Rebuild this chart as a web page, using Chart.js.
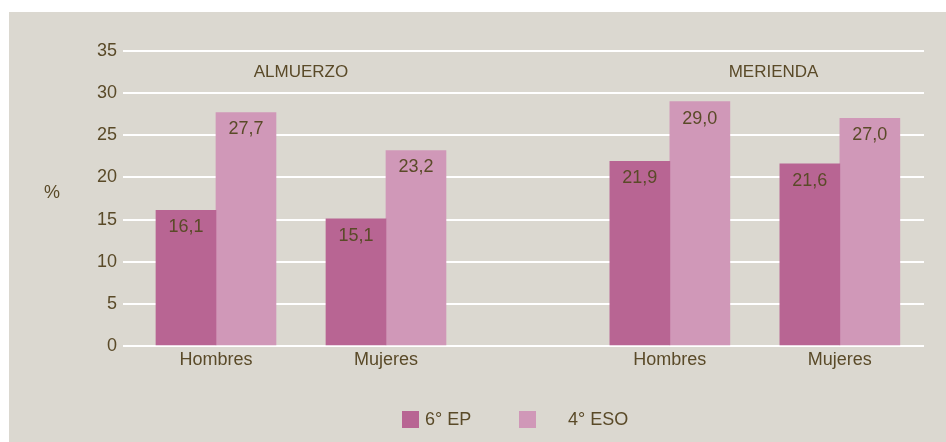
<!DOCTYPE html>
<html>
<head>
<meta charset="utf-8">
<script src="https://cdn.jsdelivr.net/npm/chart.js@4"></script>
<style>
  body { margin: 0; background: #fff; font-family: 'Liberation Sans', sans-serif; }
  #panel { position: absolute; left: 9px; top: 12px; width: 937px; height: 430px; background: #dbd8d0; }
  #chart { position: absolute; left: 0; top: 0; }
  .leg { position: absolute; top: 397px; display: flex; align-items: center; color: #5a4a28; font-size: 18px; }
  .leg i { display: inline-block; width: 17px; height: 17px; margin-right: 6px; }
</style>
</head>
<body>
<div id="panel">
  <canvas id="chart" width="937" height="430"></canvas>
  <div class="leg" style="left:393px"><i style="background:#b86593"></i>6° EP</div>
  <div class="leg" style="left:510px"><i style="background:#d098b8; margin-right:32px"></i>4° ESO</div>
</div>
<script>
const categories = ['Hombres', 'Mujeres', 'Hombres', 'Mujeres'];
const catPos = [1, 2, 3.67, 4.67];
const groups = ['ALMUERZO', 'MERIENDA'];
const groupPos = [1.5, 4.28];
const ep6 = [16.1, 15.1, 21.9, 21.6];
const eso4 = [27.7, 23.2, 29.0, 27.0];
const yTicks = [0, 5, 10, 15, 20, 25, 30, 35];

const textColor = '#5a4a28';
const fontFam = "'Liberation Sans', sans-serif";

// value labels inside the bar tops, group titles and the % sign
const extras = {
  id: 'extras',
  afterDatasetsDraw(chart) {
    const { ctx, scales } = chart;
    ctx.save();
    ctx.fillStyle = textColor;
    ctx.textAlign = 'center';
    ctx.textBaseline = 'middle';
    ctx.font = '18px ' + fontFam;
    chart.data.datasets.forEach((ds, i) => {
      chart.getDatasetMeta(i).data.forEach((bar, j) => {
        ctx.fillText(ds.data[j].y.toFixed(1).replace('.', ','), bar.x, bar.y + 17);
      });
    });
    ctx.font = '17px ' + fontFam;
    groups.forEach((g, i) => {
      ctx.fillText(g, scales.x.getPixelForValue(groupPos[i]), scales.y.getPixelForValue(32.5));
    });
    ctx.font = '18px ' + fontFam;
    ctx.fillText('%', 43, 181);
    ctx.restore();
  },
};

new Chart(document.getElementById('chart'), {
  type: 'bar',
  data: {
    datasets: [
      {
        label: '6° EP',
        data: ep6.map((v, i) => ({ x: catPos[i], y: v })),
        backgroundColor: '#b86593',
        barThickness: 60,
      },
      {
        label: '4° ESO',
        data: eso4.map((v, i) => ({ x: catPos[i], y: v })),
        backgroundColor: '#d098b8',
        barThickness: 60,
      },
    ],
  },
  options: {
    responsive: false,
    animation: false,
    layout: { padding: { top: 39, right: 22, bottom: 56, left: 0 } },
    plugins: { legend: { display: false }, tooltip: { enabled: false } },
    scales: {
      x: {
        type: 'linear',
        offset: false,
        bounds: 'data',
        min: 0.453,
        max: 5.165,
        grid: { display: false },
        border: { display: false },
        afterBuildTicks: (s) => { s.ticks = catPos.map((v) => ({ value: v })); },
        afterFit: (s) => { s.height = 40; },
        ticks: {
          autoSkip: false,
          maxRotation: 0,
          padding: -5,
          color: textColor,
          font: { family: fontFam, size: 18 },
          callback: (v, i) => categories[i],
        },
      },
      y: {
        min: 0,
        max: 35,
        grid: { color: '#ffffff', lineWidth: 2, drawTicks: false },
        border: { display: false },
        afterBuildTicks: (s) => { s.ticks = yTicks.map((v) => ({ value: v })); },
        afterFit: (s) => { s.width = 114; },
        ticks: { padding: 6, color: textColor, font: { family: fontFam, size: 18 } },
      },
    },
  },
  plugins: [extras],
});
</script>
</body>
</html>
